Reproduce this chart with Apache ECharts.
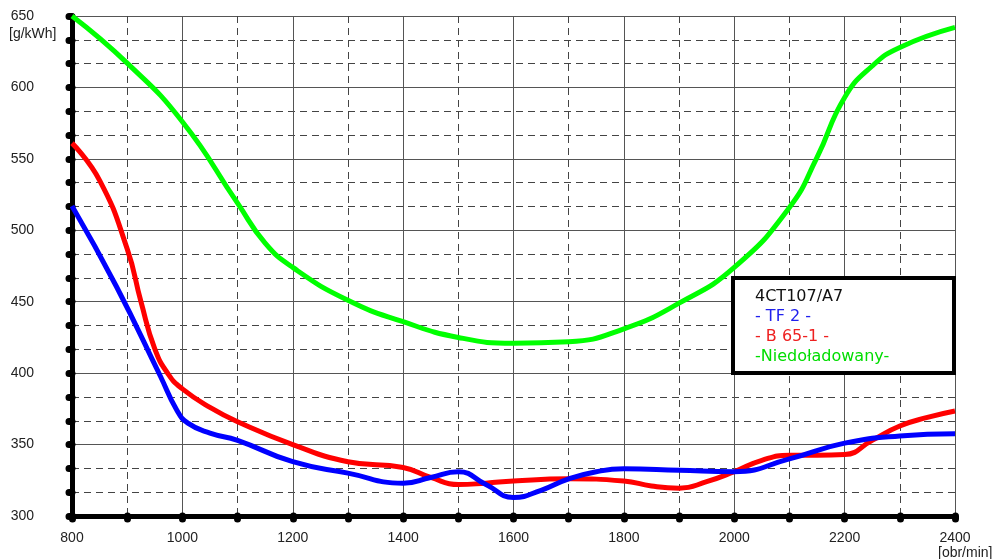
<!DOCTYPE html>
<html>
<head>
<meta charset="utf-8">
<script src="https://cdn.jsdelivr.net/npm/echarts@6/dist/echarts.min.js"></script>
<style>html,body{margin:0;padding:0;background:#fff}#c{width:999px;height:559px}</style>
</head>
<body>
<div id="c"></div>
<script>
// ---- data ----
const greenX = [800,900,1000,1100,1150,1200,1300,1400,1500,1600,1700,1800,1900,2000,2100,2150,2200,2250,2300,2400];
const greenY = [650,617,576,519,491,474,451,436,425,421,422,431,449,474,516,551,593,615,628,642];

const blueX = [800,880,960,990,1010,1050,1100,1200,1300,1400,1450,1500,1550,1600,1650,1700,1750,1800,1900,2000,2100,2200,2300,2400];
const blueY = [517,461,398,374,365,358,353,338,330,323,327,331,322,313,318,326,331,333,332,331,340,351,356,357.5];

const redX = [800,850,900,925,950,975,1000,1050,1100,1200,1300,1400,1450,1500,1550,1600,1700,1800,1850,1900,1950,2000,2050,2100,2150,2200,2250,2300,2350,2400];
const redY = [561,535,487,450,417,399,389,376,366,350,338,334,327,322,323,324.5,326,324.5,321,319.5,324,331,339,342.5,342.5,343,353,363,369,373.5];

const legendTitle = '4CT107/A7';
const seriesNames = ['- TF 2 -', '- B 65-1 -', '-Niedoładowany-'];
const yUnit = '[g/kWh]';
const xUnit = '[obr/min]';

const pairs = (xs, ys) => xs.map((x, i) => [x, ys[i]]);

const chart = echarts.init(document.getElementById('c'), null, {renderer: 'canvas'});
const FONT = 'Liberation Sans, Arial, sans-serif';
const LFONT = 'DejaVu Sans, sans-serif';
const tickStyle = {color: '#000', width: 7, cap: 'round'};

chart.setOption({
  animation: false,
  backgroundColor: '#fff',
  grid: {left: 72, right: 44, top: 16, bottom: 43, containLabel: false},
  xAxis: {
    type: 'value', min: 800, max: 2400, interval: 200,
    axisLine: {onZero: false, lineStyle: {color: '#000', width: 5}},
    axisTick: {show: true, length: 3, lineStyle: tickStyle},
    minorTick: {show: true, splitNumber: 2, length: 3, lineStyle: tickStyle},
    axisLabel: {color: '#222', fontSize: 14, fontFamily: FONT, margin: 15, formatter: v => String(v)},
    splitLine: {show: true, lineStyle: {color: '#555', width: 1}},
    minorSplitLine: {show: true, lineStyle: {color: '#444', width: 1, type: [7, 5]}}
  },
  yAxis: {
    type: 'value', min: 300, max: 650, interval: 50,
    axisLine: {onZero: false, lineStyle: {color: '#000', width: 5}},
    axisTick: {show: true, length: 3, lineStyle: tickStyle},
    minorTick: {show: true, splitNumber: 3, length: 3, lineStyle: tickStyle},
    axisLabel: {color: '#222', fontSize: 14, fontFamily: FONT, margin: 38, align: 'right', formatter: v => String(v)},
    splitLine: {show: true, lineStyle: {color: '#555', width: 1}},
    minorSplitLine: {show: true, lineStyle: {color: '#444', width: 1, type: [7, 5]}}
  },
  series: [
    {name: seriesNames[2], type: 'line', data: pairs(greenX, greenY), smooth: 0.5, showSymbol: false,
     lineStyle: {color: '#00ff00', width: 5}, z: 3},
    {name: seriesNames[1], type: 'line', data: pairs(redX, redY), smooth: 0.5, showSymbol: false,
     lineStyle: {color: '#ff0000', width: 5}, z: 4},
    {name: seriesNames[0], type: 'line', data: pairs(blueX, blueY), smooth: 0.5, showSymbol: false,
     lineStyle: {color: '#0000ff', width: 5}, z: 5}
  ],
  graphic: [
    {type: 'text', left: 9, top: 27, style: {text: yUnit, fill: '#222', font: '14px ' + FONT}},
    {type: 'text', left: 938, top: 546, style: {text: xUnit, fill: '#222', font: '14px ' + FONT}},
    {type: 'rect', left: 731, top: 276, z: 100,
     shape: {width: 221, height: 95}, style: {fill: '#fff', stroke: '#000', lineWidth: 4}},
    {type: 'text', left: 755, top: 289, z: 101, style: {text: legendTitle, fill: '#111', font: '16px ' + LFONT}},
    {type: 'text', left: 755, top: 309, z: 101, style: {text: seriesNames[0], fill: '#2020ee', font: '16px ' + LFONT}},
    {type: 'text', left: 755, top: 329, z: 101, style: {text: seriesNames[1], fill: '#ee2020', font: '16px ' + LFONT}},
    {type: 'text', left: 755, top: 349, z: 101, style: {text: seriesNames[2], fill: '#00dd00', font: '16px ' + LFONT}}
  ]
});
</script>
</body>
</html>
